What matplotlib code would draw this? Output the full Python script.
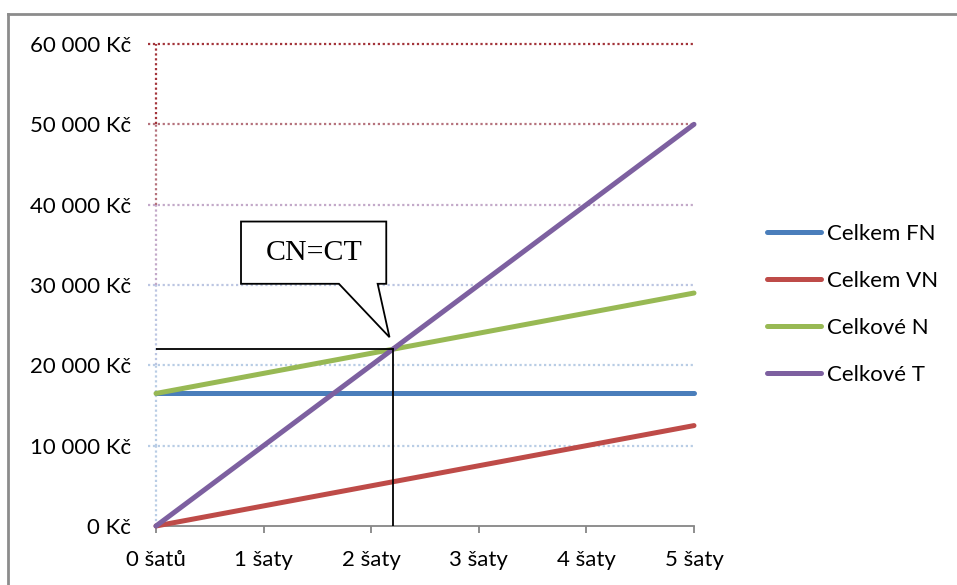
import numpy as np
import matplotlib.pyplot as plt
from matplotlib.patches import Polygon

plt.rcParams['font.family'] = ['Lato', 'DejaVu Sans']

# pocet saty 0..5
x_labels = ['0 šatů', '1 šaty', '2 šaty', '3 šaty', '4 šaty', '5 šaty']
y_ticks = [0, 10000, 20000, 30000, 40000, 50000, 60000]
y_labels = ['0 Kč', '10 000 Kč', '20 000 Kč', '30 000 Kč', '40 000 Kč', '50 000 Kč', '60 000 Kč']

celkem_fn = [16500, 16500, 16500, 16500, 16500, 16500]
celkem_vn = [0, 2500, 5000, 7500, 10000, 12500]
celkove_n = [16500, 19000, 21500, 24000, 26500, 29000]
celkove_t = [0, 10000, 20000, 30000, 40000, 50000]

bod_zvratu = (2.2, 22000)

series = [
    ('Celkem FN', celkem_fn, '#4A7EBB'),
    ('Celkem VN', celkem_vn, '#BE4B48'),
    ('Celkové N', celkove_n, '#98B954'),
    ('Celkové T', celkove_t, '#7D60A0'),
]

# barvy mrizky odspodu nahoru (prechod z modre do cervene)
grid_colors = ['#B9CDE5', '#B9CDE5', '#B9CDE5', '#BCC6E2', '#C3A9C9', '#B5727C', '#A3343A']

fig = plt.figure(figsize=(9.57, 5.85), dpi=100)
ax = fig.add_axes([156 / 957, 1 - 526 / 585, (694 - 156) / 957, (526 - 44) / 585])

xs = np.arange(len(x_labels))
ax.set_xlim(0, 5)
ax.set_ylim(0, 60000)

# mrizka
for y, c in zip(y_ticks[1:], grid_colors[1:]):
    ax.plot([-0.075, 5], [y, y], color=c, lw=1.6, ls=(0, (1, 1.2)), clip_on=False, zorder=1)
# svisla osa teckovane
for i in range(len(y_ticks) - 1):
    ax.plot([0, 0], [y_ticks[i], y_ticks[i + 1]], color=grid_colors[i + 1] if i > 1 else grid_colors[i],
            lw=1.6, ls=(0, (1, 1.2)), clip_on=False, zorder=1)

for name, vals, col in series:
    ax.plot(xs, vals, color=col, lw=3.6, label=name, solid_capstyle='round', zorder=3, clip_on=False)

# pomocne cary k bodu zvratu
bx, by = bod_zvratu
ax.plot([0, bx], [by, by], color='black', lw=1.3, zorder=4)
ax.plot([bx, bx], [0, by], color='black', lw=1.3, zorder=4)

# bublina CN=CT
box = [(0.79, 37900), (2.14, 37900), (2.14, 30150), (2.06, 30150), (bx - 0.03, by + 1500),
       (1.7, 30150), (0.79, 30150)]
ax.add_patch(Polygon(box, closed=True, facecolor='white', edgecolor='black', lw=1.3, zorder=5))
ax.text(1.465, 34000, 'CN=CT', family='Liberation Serif', fontsize=21.5, ha='center', va='center', zorder=6)

for side in ['top', 'right', 'left']:
    ax.spines[side].set_visible(False)
ax.spines['bottom'].set_color('#868686')
ax.spines['bottom'].set_linewidth(1.3)
ax.spines['bottom'].set_zorder(2)

ax.set_xticks(xs)
ax.set_xticklabels(x_labels, fontsize=16)
ax.tick_params(axis='x', length=5, width=1.3, color='#868686', pad=12)
ax.set_yticks(y_ticks)
ax.set_yticklabels(y_labels, fontsize=16)
ax.tick_params(axis='y', length=0, pad=18)

leg = ax.legend(loc='center left', bbox_to_anchor=(1.136, 0.46), frameon=False, fontsize=16,
                handlelength=2.4, handletextpad=0.27, labelspacing=1.22,
                borderpad=0, borderaxespad=0)

# ramecek grafu
fig.add_artist(plt.Line2D([8 / 957, 1], [1 - 14 / 585, 1 - 14 / 585], color='#8C8C8C', lw=2))
fig.add_artist(plt.Line2D([8 / 957, 8 / 957], [0, 1 - 14 / 585], color='#8C8C8C', lw=2))

fig.savefig('out.png', dpi=100)
